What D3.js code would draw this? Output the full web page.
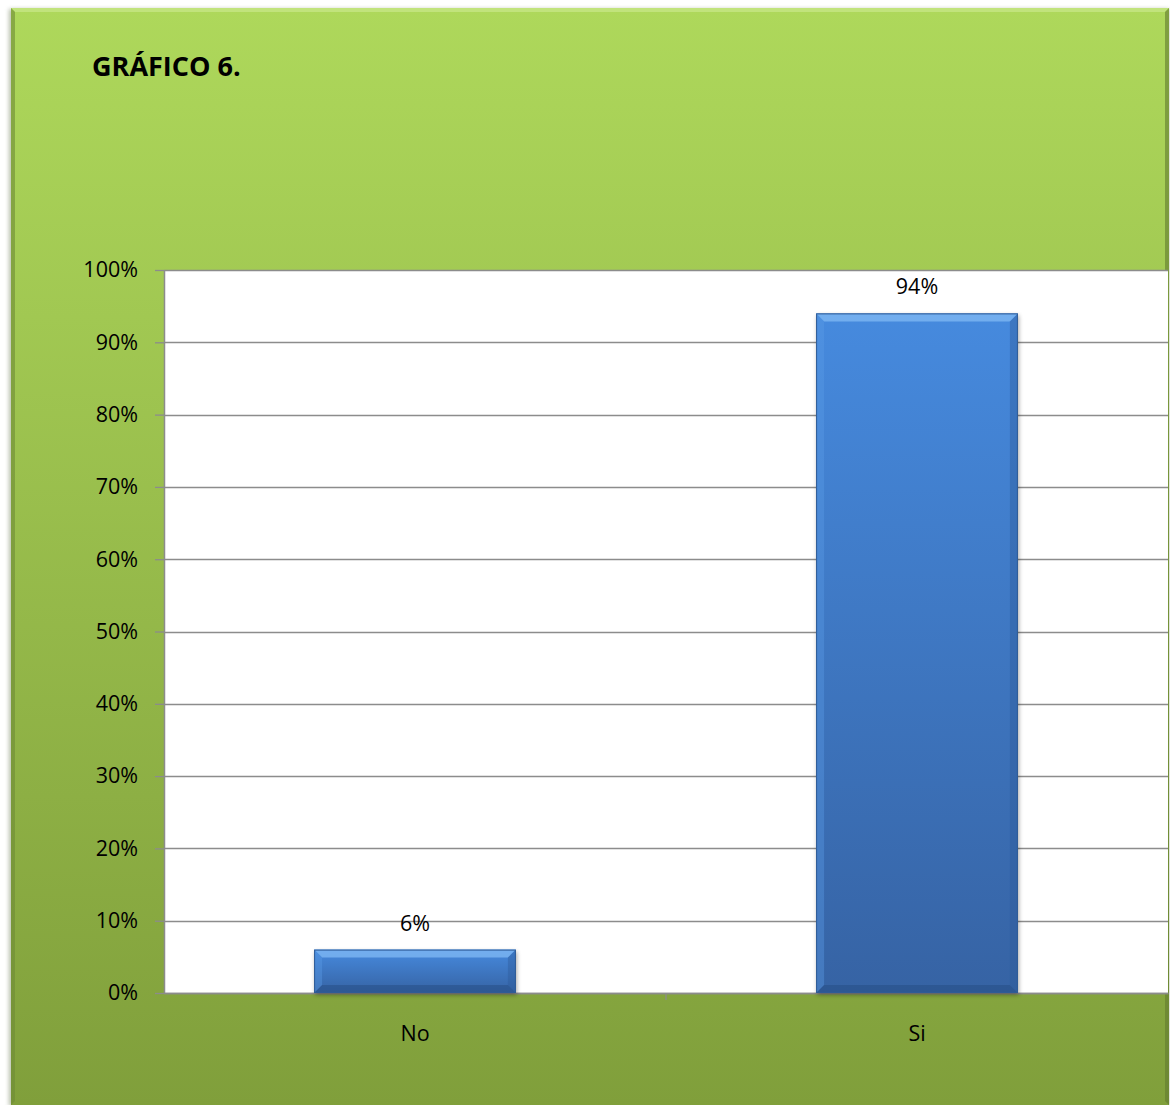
<!DOCTYPE html>
<html>
<head>
<meta charset="utf-8">
<script src="https://cdn.jsdelivr.net/npm/d3@7"></script>
<style>
  html, body { margin: 0; padding: 0; background: #ffffff; }
  svg { display: block; }
</style>
</head>
<body>
<svg id="chart" width="1170" height="1105"></svg>
<script>
// Chart data
const title = "GRÁFICO 6.";
const categories = ["No", "Si"];
const values = [0.06, 0.94];
const valueLabels = ["6%", "94%"];
const tickValues = [0, 0.1, 0.2, 0.3, 0.4, 0.5, 0.6, 0.7, 0.8, 0.9, 1.0];

const svg = d3.select("#chart");
const frame = { x: 11, y: 8, w: 1158, h: 1097 };
const plot = { left: 164, right: 1168, top: 270, bottom: 993 };
const font = "'Open Sans', 'Liberation Sans', sans-serif";

const defs = svg.append("defs");

// Frame gradient (light green at top to olive at bottom)
const gFrame = defs.append("linearGradient").attr("id", "frameGrad")
  .attr("x1", 0).attr("y1", 0).attr("x2", 0).attr("y2", 1);
gFrame.append("stop").attr("offset", "0%").attr("stop-color", "#aed85b");
gFrame.append("stop").attr("offset", "100%").attr("stop-color", "#809f3b");

// Bar gradient
const gBar = defs.append("linearGradient").attr("id", "barGrad")
  .attr("x1", 0).attr("y1", 0).attr("x2", 0).attr("y2", 1);
gBar.append("stop").attr("offset", "0%").attr("stop-color", "#468ade");
gBar.append("stop").attr("offset", "100%").attr("stop-color", "#3663a4");

const shadow = defs.append("filter").attr("id", "shadow")
  .attr("x", "-10%").attr("y", "-10%").attr("width", "120%").attr("height", "120%");
shadow.append("feGaussianBlur").attr("stdDeviation", 2);

// Frame with soft shadow and bevelled edges
svg.append("rect")
  .attr("x", frame.x - 2).attr("y", frame.y + 1)
  .attr("width", frame.w + 2).attr("height", frame.h)
  .attr("fill", "#6f7f5a").attr("opacity", 0.5).attr("filter", "url(#shadow)");
svg.append("rect")
  .attr("x", frame.x).attr("y", frame.y)
  .attr("width", frame.w).attr("height", frame.h)
  .attr("fill", "url(#frameGrad)");
const bv = 4;
svg.append("polygon")
  .attr("points", [[frame.x, frame.y], [frame.x + frame.w, frame.y], [frame.x + frame.w - bv, frame.y + bv], [frame.x + bv, frame.y + bv]].join(" "))
  .attr("fill", "#c9e88a").attr("opacity", 0.7);
svg.append("polygon")
  .attr("points", [[frame.x, frame.y], [frame.x + bv, frame.y + bv], [frame.x + bv, frame.y + frame.h - bv], [frame.x, frame.y + frame.h]].join(" "))
  .attr("fill", "#6e8a35").attr("opacity", 0.6);
svg.append("polygon")
  .attr("points", [[frame.x + frame.w, frame.y], [frame.x + frame.w, frame.y + frame.h], [frame.x + frame.w - bv, frame.y + frame.h - bv], [frame.x + frame.w - bv, frame.y + bv]].join(" "))
  .attr("fill", "#617a2e").attr("opacity", 0.6);

// Title
svg.append("text")
  .attr("x", 92).attr("y", 76)
  .attr("font-family", font).attr("font-weight", "bold").attr("font-size", 27)
  .attr("fill", "#000").text(title);

// Scales
const x = d3.scaleBand().domain(categories).range([plot.left, plot.right]).padding(0);
const y = d3.scaleLinear().domain([0, 1]).range([plot.bottom, plot.top]);
const barFrac = 0.402;

// Plot area
svg.append("rect")
  .attr("x", plot.left).attr("y", plot.top)
  .attr("width", plot.right - plot.left).attr("height", plot.bottom - plot.top)
  .attr("fill", "#ffffff");

// Gridlines
svg.append("g")
  .selectAll("line").data(tickValues).join("line")
  .attr("x1", plot.left).attr("x2", plot.right)
  .attr("y1", d => Math.round(y(d)) + 0.5).attr("y2", d => Math.round(y(d)) + 0.5)
  .attr("stroke", "#8c8c8c").attr("stroke-width", 1.3);

// Y axis
const yAxis = d3.axisLeft(y).tickValues(tickValues)
  .tickFormat(d3.format(".0%")).tickSizeInner(9).tickSizeOuter(0).tickPadding(17);
const gy = svg.append("g").attr("transform", `translate(${plot.left},0)`).call(yAxis);
gy.select(".domain").attr("stroke", "#8c8c8c").attr("stroke-width", 1.5);
gy.selectAll(".tick line").attr("stroke", "#8c8c8c").attr("stroke-width", 1.3);
gy.selectAll(".tick text").attr("font-family", font).attr("font-size", 21.5).attr("fill", "#000");

// X axis
const xAxis = d3.axisBottom(x).tickSize(0).tickPadding(33);
const gx = svg.append("g").attr("transform", `translate(0,${plot.bottom})`).call(xAxis);
gx.select(".domain").attr("stroke", "#8c8c8c").attr("stroke-width", 1.5);
gx.selectAll(".tick text").attr("font-family", font).attr("font-size", 21.5).attr("fill", "#000");
// category divider ticks
gx.append("g").selectAll("line").data(categories.slice(1)).join("line")
  .attr("x1", d => x(d)).attr("x2", d => x(d))
  .attr("y1", 0).attr("y2", 7)
  .attr("stroke", "#8c8c8c").attr("stroke-width", 1.3);

// Bars
const bars = svg.append("g").selectAll("g.bar")
  .data(categories.map((c, i) => ({ c, v: values[i], label: valueLabels[i] })))
  .join("g").attr("class", "bar");

bars.each(function (d) {
  const g = d3.select(this);
  const bw = x.bandwidth() * barFrac;
  const x0 = x(d.c) + (x.bandwidth() - bw) / 2;
  const x1 = x0 + bw;
  const y0 = y(d.v);
  const y1 = y(0);
  const b = Math.min(8, (y1 - y0) / 2.5);
  g.append("rect").attr("x", x0 + 1).attr("y", y0 + 2).attr("width", bw).attr("height", y1 - y0)
    .attr("fill", "#000").attr("opacity", 0.35).attr("filter", "url(#shadow)");
  g.append("rect").attr("x", x0).attr("y", y0).attr("width", bw).attr("height", y1 - y0)
    .attr("fill", "url(#barGrad)");
  // bevel: top highlight, side shading, bottom shade
  g.append("polygon").attr("points", [[x0, y0], [x1, y0], [x1 - b, y0 + b], [x0 + b, y0 + b]].join(" "))
    .attr("fill", "#7db7f2").attr("opacity", 0.8);
  g.append("polygon").attr("points", [[x0, y0], [x0 + b, y0 + b], [x0 + b, y1 - b], [x0, y1]].join(" "))
    .attr("fill", "#5a9be6").attr("opacity", 0.4);
  g.append("polygon").attr("points", [[x1, y0], [x1, y1], [x1 - b, y1 - b], [x1 - b, y0 + b]].join(" "))
    .attr("fill", "#2e5a98").attr("opacity", 0.4);
  g.append("polygon").attr("points", [[x0, y1], [x0 + b, y1 - b], [x1 - b, y1 - b], [x1, y1]].join(" "))
    .attr("fill", "#24497e").attr("opacity", 0.45);
  g.append("rect").attr("x", x0 + 0.5).attr("y", y0 + 0.5).attr("width", bw - 1).attr("height", y1 - y0 - 1)
    .attr("fill", "none").attr("stroke", "#2f5b96").attr("stroke-width", 1);
  g.append("text")
    .attr("x", (x0 + x1) / 2).attr("y", y0 - 19)
    .attr("text-anchor", "middle")
    .attr("font-family", font).attr("font-size", 21.5).attr("fill", "#000")
    .text(d.label);
});
</script>
</body>
</html>
